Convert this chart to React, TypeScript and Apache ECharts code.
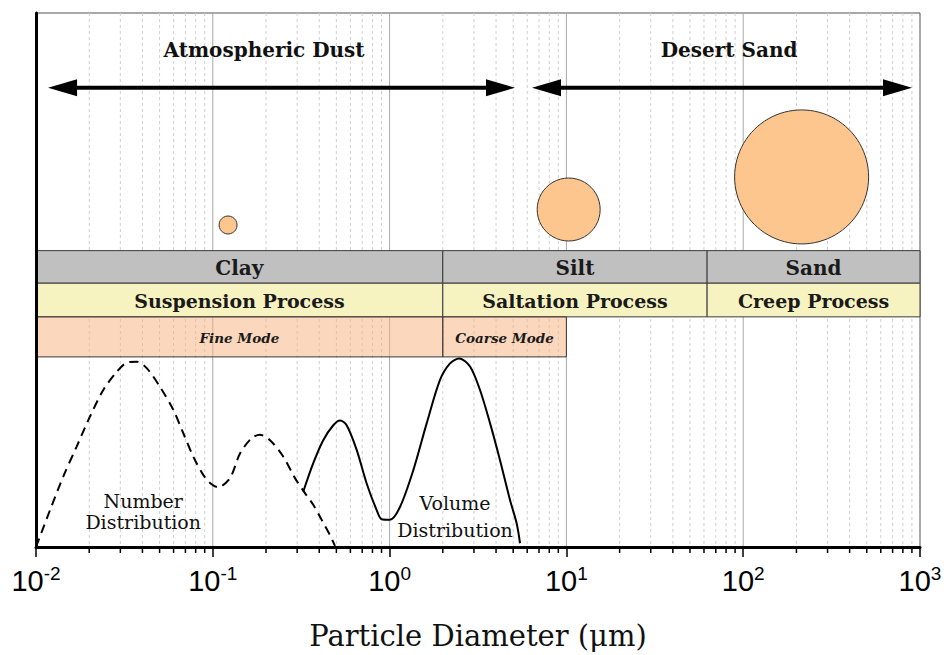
import React, { useEffect, useRef } from "react";
import * as echarts from "echarts";

// ---------- axis ticks ----------
const decadeTicks = [0.01, 0.1, 1, 10, 100, 1000];
const minorSteps = [2, 3, 4, 5, 6, 7, 8, 9];

// ---------- size classes / transport processes / modes ----------
const sizeClassNames = ["Clay", "Silt", "Sand"];
const sizeClassEdges = [0.01, 2, 62.5, 1000];
const processNames = ["Suspension Process", "Saltation Process", "Creep Process"];
const processEdges = [0.01, 2, 62.5, 1000];
const modeNames = ["Fine Mode", "Coarse Mode"];
const modeEdges = [0.01, 2, 10];

// ---------- ranges (double arrows) ----------
const rangeNames = ["Atmospheric Dust", "Desert Sand"];
const rangeFrom = [0.0117, 6.39];
const rangeTo = [5.12, 901];
const rangeLabelX = [0.195, 83.2];

// ---------- particle bubbles ----------
const particleDiameters = [0.122, 10.3, 214];
const particleLevels = [60.3, 63.2, 69.3];

// ---------- number distribution (dashed) ----------
const numberX = [0.01, 0.012, 0.01426, 0.01698, 0.02018, 0.02402, 0.0286, 0.03257, 0.03713, 0.04227, 0.05026, 0.05979, 0.06808, 0.07762, 0.08831, 0.0964, 0.1069, 0.125, 0.1425, 0.166, 0.1849, 0.2107, 0.2506, 0.2917, 0.3321, 0.37, 0.4128, 0.4603, 0.491];
const numberY = [0, 6.9, 13.2, 18.8, 24.4, 29.4, 32.8, 34.5, 34.7, 33.5, 30.0, 25.7, 21.3, 16.9, 13.5, 12.0, 11.2, 12.9, 17.5, 20.4, 21.0, 20.0, 16.9, 12.9, 10.1, 7.9, 5.1, 2.2, 0.2];

// ---------- volume distribution (solid) ----------
const volumeX = [0.3251, 0.37, 0.4213, 0.4803, 0.5243, 0.5716, 0.6512, 0.7418, 0.8451, 0.9016, 1.004, 1.145, 1.362, 1.622, 1.928, 2.197, 2.479, 2.851, 3.246, 3.698, 4.209, 4.797, 5.234, 5.466];
const volumeY = [10.4, 15.7, 20.0, 22.8, 23.7, 22.8, 18.2, 11.9, 6.9, 5.2, 5.1, 7.5, 14.4, 23.2, 31.3, 34.4, 35.3, 33.8, 29.4, 23.2, 16.3, 8.8, 4.4, 0.7];

// ---------- curve labels ----------
const curveLabelNames = ["Number\nDistribution", "Volume\nDistribution"];
const curveLabelX = [0.0404, 2.345];
const curveLabelY = [6.6, 5.7];

// ---------- layout / style (not data) ----------
const SERIF = '"DejaVu Serif", "Liberation Serif", serif';
const NARROW = '"Liberation Sans Narrow", "Liberation Sans", Arial, sans-serif';
const ROWS = [
  { top: 55.5, bottom: 49.4, fill: "#c0c0c0", font: `bold 20px ${SERIF}` },
  { top: 49.4, bottom: 43.1, fill: "#f7f3c1", font: `bold 19px ${SERIF}` },
  { top: 43.1, bottom: 35.6, fill: "rgba(246,178,128,0.52)", font: `italic bold 13.5px ${SERIF}` },
];
const ARROW_LEVEL = 86;
const TITLE_LEVEL = 93.1;
const BUBBLE_SIZES = [18, 63, 134];
const CURVE_LABEL_LINE = [21, 27];

export default function App() {
  const ref = useRef<HTMLDivElement>(null);

  useEffect(() => {
    if (!ref.current) return;
    const chart = echarts.init(ref.current, undefined, { renderer: "svg" });

    const gridData: number[][] = [];
    decadeTicks.forEach((d, i) => {
      if (i > 0 && i < decadeTicks.length - 1) gridData.push([d, 1]);
      if (i < decadeTicks.length - 1) minorSteps.forEach((m) => gridData.push([d * m, 0]));
    });

    const bandData: any[] = [];
    const bandText: string[] = [];
    const addRow = (names: string[], edges: number[], row: number) => {
      names.forEach((n, i) => {
        bandData.push([edges[i], edges[i + 1], row]);
        bandText.push(n);
      });
    };
    addRow(sizeClassNames, sizeClassEdges, 0);
    addRow(processNames, processEdges, 1);
    addRow(modeNames, modeEdges, 2);

    const option: any = {
      animation: false,
      grid: {
        left: 36, right: 26, top: 13, bottom: 108,
        containLabel: false, outerBoundsMode: "none",
        show: true, borderColor: "#555", borderWidth: 1, backgroundColor: "#fff",
      },
      xAxis: {
        type: "log",
        logBase: 10,
        min: 0.01,
        max: 1000,
        z: 10,
        axisLine: { show: true, lineStyle: { color: "#000", width: 3 } },
        axisTick: { show: true, length: 10, inside: false, lineStyle: { color: "#000", width: 1.5 } },
        splitLine: { show: false },
        axisLabel: {
          margin: 17,
          formatter: (v: number) => `{b|10}{s|${Math.round(Math.log10(v))}}`,
          rich: {
            b: { fontFamily: NARROW, fontSize: 29, color: "#000" },
            s: { fontFamily: NARROW, fontSize: 19, color: "#000", padding: [0, 0, 15, 0] },
          },
        },
        name: "Particle Diameter (μm)",
        nameLocation: "middle",
        nameGap: 74,
        nameTextStyle: { fontFamily: SERIF, fontSize: 29, color: "#111" },
      },
      yAxis: {
        type: "value",
        min: 0,
        max: 100,
        z: 10,
        axisLine: { show: true, lineStyle: { color: "#000", width: 3 } },
        axisTick: { show: false },
        axisLabel: { show: false },
        splitLine: { show: false },
      },
      series: [
        {
          type: "custom",
          name: "grid",
          z: 1,
          silent: true,
          encode: { x: 0, y: 1 },
          data: gridData,
          renderItem: (params: any, api: any) => {
            const cs = params.coordSys;
            const p = api.coord([api.value(0), 0]);
            const major = api.value(1) === 1;
            const children: any[] = [
              {
                type: "line",
                shape: { x1: p[0], y1: cs.y, x2: p[0], y2: cs.y + cs.height },
                style: major
                  ? { stroke: "#a8a8a8", lineWidth: 1 }
                  : { stroke: "#cfcfcf", lineWidth: 1, lineDash: [3, 3] },
              },
            ];
            if (!major) {
              children.push({
                type: "line",
                shape: { x1: p[0], y1: cs.y + cs.height, x2: p[0], y2: cs.y + cs.height + 6 },
                style: { stroke: "#000", lineWidth: 1.5 },
              });
            }
            return { type: "group", children };
          },
        },
        {
          type: "custom",
          name: "bands",
          z: 3,
          silent: true,
          encode: { x: [0, 1], y: 2 },
          data: bandData,
          renderItem: (params: any, api: any) => {
            const row = ROWS[api.value(2)];
            const a = api.coord([api.value(0), row.top]);
            const b = api.coord([api.value(1), row.bottom]);
            return {
              type: "group",
              children: [
                {
                  type: "rect",
                  shape: { x: a[0], y: a[1], width: b[0] - a[0], height: b[1] - a[1] },
                  style: { fill: row.fill, stroke: "#3a3a3a", lineWidth: 1 },
                },
                {
                  type: "text",
                  style: {
                    text: bandText[params.dataIndex],
                    x: (a[0] + b[0]) / 2,
                    y: (a[1] + b[1]) / 2 + 1,
                    align: "center",
                    verticalAlign: "middle",
                    font: row.font,
                    fill: "#1a1a1a",
                  },
                },
              ],
            };
          },
        },
        {
          type: "scatter",
          name: "particles",
          z: 4,
          data: particleDiameters.map((d, i) => [d, particleLevels[i]]),
          symbol: "circle",
          symbolSize: (_v: any, p: any) => BUBBLE_SIZES[p.dataIndex],
          itemStyle: { color: "#fdc68f", borderColor: "#333", borderWidth: 1, opacity: 1 },
        },
        {
          type: "custom",
          name: "ranges",
          z: 4,
          silent: true,
          encode: { x: [0, 1], y: 2 },
          data: rangeFrom.map((f, i) => [f, rangeTo[i], ARROW_LEVEL]),
          renderItem: (params: any, api: any) => {
            const a = api.coord([api.value(0), api.value(2)]);
            const b = api.coord([api.value(1), api.value(2)]);
            const L = 29;
            const H = 8.5;
            return {
              type: "group",
              children: [
                {
                  type: "line",
                  shape: { x1: a[0] + L - 2, y1: a[1], x2: b[0] - L + 2, y2: b[1] },
                  style: { stroke: "#000", lineWidth: 4 },
                },
                {
                  type: "polygon",
                  shape: { points: [[a[0], a[1]], [a[0] + L, a[1] - H], [a[0] + L, a[1] + H]] },
                  style: { fill: "#000" },
                },
                {
                  type: "polygon",
                  shape: { points: [[b[0], b[1]], [b[0] - L, b[1] - H], [b[0] - L, b[1] + H]] },
                  style: { fill: "#000" },
                },
              ],
            };
          },
        },
        {
          type: "custom",
          name: "rangeTitles",
          z: 4,
          silent: true,
          encode: { x: 0, y: 1 },
          data: rangeLabelX.map((x) => [x, TITLE_LEVEL]),
          renderItem: (params: any, api: any) => {
            const p = api.coord([api.value(0), api.value(1)]);
            return {
              type: "text",
              style: {
                text: rangeNames[params.dataIndex],
                x: p[0],
                y: p[1],
                align: "center",
                verticalAlign: "middle",
                font: `bold 20px ${SERIF}`,
                fill: "#111",
              },
            };
          },
        },
        {
          type: "line",
          name: "Number Distribution",
          z: 5,
          data: numberX.map((x, i) => [x, numberY[i]]),
          showSymbol: false,
          smooth: 0.3,
          lineStyle: { color: "#000", width: 2, type: [9, 6] },
        },
        {
          type: "line",
          name: "Volume Distribution",
          z: 5,
          data: volumeX.map((x, i) => [x, volumeY[i]]),
          showSymbol: false,
          smooth: 0.3,
          lineStyle: { color: "#000", width: 2 },
        },
        {
          type: "custom",
          name: "curveLabels",
          z: 6,
          silent: true,
          encode: { x: 0, y: 1 },
          data: curveLabelX.map((x, i) => [x, curveLabelY[i]]),
          renderItem: (params: any, api: any) => {
            const p = api.coord([api.value(0), api.value(1)]);
            return {
              type: "text",
              style: {
                text: curveLabelNames[params.dataIndex],
                x: p[0],
                y: p[1],
                align: "center",
                verticalAlign: "middle",
                font: `19px ${SERIF}`,
                lineHeight: CURVE_LABEL_LINE[params.dataIndex],
                fill: "#111",
              },
            };
          },
        },
      ],
    };

    chart.setOption(option);
    return () => chart.dispose();
  }, []);

  return (
    <div
      ref={ref}
      style={{ position: "fixed", left: 0, top: 0, width: 946, height: 655, background: "#fff" }}
    />
  );
}
